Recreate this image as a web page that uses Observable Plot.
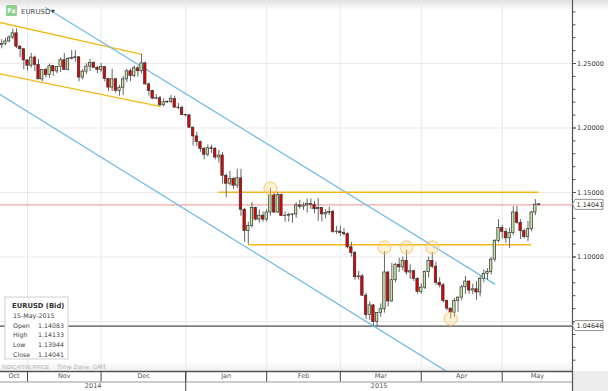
<!DOCTYPE html>
<html>
<head>
<meta charset="utf-8">
<script src="https://cdn.jsdelivr.net/npm/d3@7"></script>
<script src="https://cdn.jsdelivr.net/npm/@observablehq/plot@0.6"></script>
<style>
  html, body { margin: 0; padding: 0; background: #fff; }
  #chart { width: 608px; height: 391px; overflow: hidden; color: #333; }
  #chart svg { display: block; }
</style>
</head>
<body>
<div id="chart"></div>
<script>
// ---------- DATA ----------
const symbol = "EURUSD";
const startDate = "2014-10-23";
const endDate = "2015-05-15";

// daily candles [open, high, low, close], one row per weekday
const oct2014 = [
  [1.2642,1.2685,1.2614,1.2651],[1.2651,1.2696,1.2636,1.2671],[1.2671,1.2714,1.2662,1.2701],
  [1.2701,1.2766,1.2685,1.2734],[1.2734,1.2768,1.2615,1.2630],[1.2630,1.2640,1.2545,1.2611],
  [1.2611,1.2612,1.2451,1.2524]
];
const nov2014 = [
  [1.2524,1.2530,1.2440,1.2483],[1.2483,1.2578,1.2464,1.2546],[1.2546,1.2557,1.2437,1.2489],
  [1.2489,1.2531,1.2375,1.2377],[1.2377,1.2450,1.2358,1.2449],[1.2449,1.2464,1.2387,1.2410],
  [1.2410,1.2495,1.2387,1.2479],[1.2479,1.2485,1.2400,1.2439],[1.2439,1.2475,1.2420,1.2472],
  [1.2472,1.2544,1.2430,1.2525],[1.2525,1.2577,1.2445,1.2450],[1.2450,1.2545,1.2443,1.2535],
  [1.2535,1.2600,1.2528,1.2543],[1.2543,1.2600,1.2510,1.2548],[1.2548,1.2552,1.2358,1.2391],
  [1.2391,1.2452,1.2372,1.2437],[1.2437,1.2499,1.2416,1.2476],[1.2476,1.2532,1.2438,1.2505],
  [1.2505,1.2512,1.2461,1.2467],[1.2467,1.2478,1.2422,1.2451]
];
const dec2014 = [
  [1.2451,1.2500,1.2430,1.2472],[1.2472,1.2475,1.2357,1.2381],[1.2381,1.2385,1.2282,1.2313],
  [1.2313,1.2456,1.2283,1.2378],[1.2378,1.2385,1.2269,1.2288],[1.2288,1.2330,1.2247,1.2312],
  [1.2312,1.2399,1.2250,1.2377],[1.2377,1.2455,1.2352,1.2440],[1.2440,1.2458,1.2359,1.2403],
  [1.2403,1.2482,1.2390,1.2463],[1.2463,1.2478,1.2395,1.2440],[1.2440,1.2570,1.2418,1.2501],
  [1.2501,1.2511,1.2334,1.2338],[1.2338,1.2350,1.2247,1.2287],[1.2287,1.2293,1.2220,1.2228],
  [1.2228,1.2259,1.2217,1.2231],[1.2231,1.2244,1.2164,1.2176],[1.2176,1.2226,1.2165,1.2199],
  [1.2199,1.2210,1.2190,1.2202],[1.2202,1.2252,1.2188,1.2224],[1.2224,1.2247,1.2152,1.2158],
  [1.2158,1.2191,1.2141,1.2155],[1.2155,1.2170,1.2096,1.2100]
];
const jan2015 = [
  [1.2100,1.2105,1.2085,1.2098],[1.2098,1.2103,1.2001,1.2002],[1.2002,1.2009,1.1860,1.1935],
  [1.1935,1.1968,1.1855,1.1891],[1.1891,1.1897,1.1812,1.1838],[1.1838,1.1850,1.1754,1.1793],
  [1.1793,1.1869,1.1777,1.1843],[1.1843,1.1867,1.1802,1.1838],[1.1838,1.1849,1.1752,1.1771],
  [1.1771,1.1826,1.1728,1.1787],[1.1787,1.1811,1.1567,1.1630],[1.1630,1.1643,1.1460,1.1568],
  [1.1568,1.1663,1.1550,1.1605],[1.1605,1.1614,1.1523,1.1553],[1.1553,1.1680,1.1530,1.1610],
  [1.1610,1.1680,1.1315,1.1366],[1.1366,1.1377,1.1115,1.1202],[1.1202,1.1270,1.1098,1.1240],
  [1.1240,1.1423,1.1224,1.1380],[1.1380,1.1387,1.1280,1.1290],[1.1290,1.1364,1.1262,1.1320],
  [1.1320,1.1350,1.1270,1.1290]
];
const feb2015 = [
  [1.1290,1.1367,1.1270,1.1345],[1.1345,1.1534,1.1315,1.1480],[1.1480,1.1499,1.1337,1.1345],
  [1.1345,1.1498,1.1338,1.1480],[1.1480,1.1488,1.1316,1.1317],[1.1317,1.1349,1.1270,1.1320],
  [1.1320,1.1340,1.1270,1.1325],[1.1325,1.1336,1.1262,1.1330],[1.1330,1.1422,1.1300,1.1400],
  [1.1400,1.1440,1.1370,1.1390],[1.1390,1.1420,1.1360,1.1400],[1.1400,1.1450,1.1340,1.1410],
  [1.1410,1.1450,1.1369,1.1405],[1.1405,1.1432,1.1335,1.1370],[1.1370,1.1451,1.1276,1.1380],
  [1.1380,1.1384,1.1272,1.1330],[1.1330,1.1367,1.1296,1.1340],[1.1340,1.1387,1.1323,1.1350],
  [1.1350,1.1364,1.1184,1.1195],[1.1195,1.1237,1.1174,1.1197]
];
const mar2015 = [
  [1.1197,1.1239,1.1160,1.1185],[1.1185,1.1222,1.1162,1.1177],[1.1177,1.1188,1.1063,1.1075],
  [1.1075,1.1114,1.1000,1.1030],[1.1030,1.1043,1.0820,1.0843],[1.0843,1.0888,1.0820,1.0850],
  [1.0850,1.0864,1.0695,1.0700],[1.0700,1.0720,1.0515,1.0550],[1.0550,1.0653,1.0508,1.0625],
  [1.0625,1.0629,1.0462,1.0495],[1.0495,1.0570,1.0458,1.0565],[1.0565,1.0637,1.0531,1.0595],
  [1.0595,1.1043,1.0565,1.0880],[1.0880,1.0886,1.0613,1.0655],[1.0655,1.0950,1.0650,1.0820],
  [1.0820,1.0950,1.0800,1.0940],[1.0940,1.0990,1.0880,1.0920],[1.0920,1.1000,1.0890,1.0970],
  [1.0970,1.1052,1.0860,1.0880],[1.0880,1.0940,1.0826,1.0890],[1.0890,1.0895,1.0810,1.0830],
  [1.0830,1.0840,1.0712,1.0730]
];
const apr2015 = [
  [1.0730,1.0790,1.0711,1.0762],[1.0762,1.0890,1.0747,1.0885],[1.0885,1.1000,1.0837,1.0970],
  [1.0970,1.1035,1.0910,1.0925],[1.0925,1.0960,1.0780,1.0800],[1.0800,1.0838,1.0760,1.0780],
  [1.0780,1.0795,1.0643,1.0660],[1.0660,1.0665,1.0582,1.0600],[1.0600,1.0604,1.0520,1.0568],
  [1.0568,1.0679,1.0532,1.0658],[1.0658,1.0690,1.0569,1.0685],[1.0685,1.0780,1.0660,1.0765],
  [1.0765,1.0850,1.0710,1.0810],[1.0810,1.0815,1.0711,1.0740],[1.0740,1.0789,1.0708,1.0750],
  [1.0750,1.0810,1.0663,1.0725],[1.0725,1.0849,1.0690,1.0830],[1.0830,1.0900,1.0800,1.0870],
  [1.0870,1.0910,1.0820,1.0885],[1.0885,1.0995,1.0860,1.0980],[1.0980,1.1135,1.0960,1.1125],
  [1.1125,1.1290,1.1110,1.1225]
];
const may2015 = [
  [1.1225,1.1245,1.1140,1.1195],[1.1195,1.1220,1.1106,1.1145],[1.1145,1.1225,1.1065,1.1185],
  [1.1185,1.1390,1.1165,1.1345],[1.1345,1.1392,1.1253,1.1265],[1.1265,1.1290,1.1135,1.1200],
  [1.1200,1.1215,1.1140,1.1155],[1.1155,1.1276,1.1120,1.1215],[1.1215,1.1355,1.1195,1.1345],
  [1.1345,1.1445,1.1320,1.1405],[1.14083,1.14133,1.13944,1.14041]
];

const monthNames = ["Oct","Nov","Dec","Jan","Feb","Mar","Apr","May"];
const monthStartDates = ["2014-11-01","2014-12-01","2015-01-01","2015-02-01","2015-03-01","2015-04-01","2015-05-01"];
const yearNames = ["2014","2015"];
const yearStartDate = "2015-01-01";

const priceLabels = [1.10, 1.15, 1.20, 1.25];
const gridPrices = [1.05, 1.10, 1.15, 1.20, 1.25];
const minorTicks = [1.02,1.03,1.04,1.05,1.06,1.07,1.08,1.09,1.10,1.11,1.12,1.13,1.14,1.15,1.16,1.17,1.18,1.19,1.20,1.21,1.22,1.23,1.24,1.25,1.26,1.27,1.28,1.29];
const lastPrice = 1.14041;
const markedLow = 1.04646;

// drawn trend channels (date, price anchors)
const channelLines = [
  {id: "up", date: "2014-10-20", p: 1.2834}, {id: "up", date: "2014-12-16", p: 1.2570},
  {id: "lo", date: "2014-10-20", p: 1.2434}, {id: "lo", date: "2014-12-23", p: 1.2168}
];
const blueLines = [
  {id: "up", date: "2014-11-10", p: 1.2932}, {id: "up", date: "2015-04-29", p: 1.0790},
  {id: "lo", date: "2014-10-20", p: 1.2305}, {id: "lo", date: "2015-04-30", p: 0.9864}
];
const levels = [
  {p: 1.1502, from: "2015-01-14", to: "2015-05-15"},
  {p: 1.1095, from: "2015-01-26", to: "2015-05-13"}
];
const touches = [
  {date: "2015-02-03", p: 1.1531}, {date: "2015-03-18", p: 1.1075},
  {date: "2015-03-26", p: 1.1075}, {date: "2015-04-06", p: 1.1075},
  {date: "2015-04-13", p: 1.0522}
];

// ---------- BUILD ----------
const isWk = t => t.getUTCDay() % 6 !== 0;
const days = d3.utcDay.range(new Date(startDate), d3.utcDay.offset(new Date(endDate), 1)).filter(isWk);
const s0 = days[0];
function tIndex(s) {
  const d = new Date(s);
  return d >= s0 ? d3.utcDay.range(s0, d).filter(isWk).length
                 : -d3.utcDay.range(d, s0).filter(isWk).length;
}
const rows = [...oct2014, ...nov2014, ...dec2014, ...jan2015, ...feb2015, ...mar2015, ...apr2015, ...may2015];
const candles = rows.map((r, i) => ({i, date: days[i], o: r[0], h: r[1], l: r[2], c: r[3]}));
const last = candles[candles.length - 1];

const xDomain = [-0.34, last.i + 9.1];
const yDomain = [1.01124, 1.29884];

const monthStarts = monthStartDates.map(tIndex);
const bounds = [xDomain[0], ...monthStarts, xDomain[1]];
const monthLabels = monthNames.map((name, k) => ({name, mid: (bounds[k] + bounds[k + 1]) / 2}));
const yIdx = tIndex(yearStartDate);
const yearLabels = [
  {name: yearNames[0], mid: (xDomain[0] + yIdx) / 2},
  {name: yearNames[1], mid: (yIdx + xDomain[1]) / 2}
];
const withIdx = arr => arr.map(d => ({...d, i: tIndex(d.date)}));

const green = "#c6e4a2", red = "#e40000";

const plot = Plot.plot({
  width: 608, height: 391,
  marginLeft: 0, marginRight: 36, marginTop: 0, marginBottom: 20,
  x: {type: "linear", domain: xDomain, axis: null},
  y: {type: "linear", domain: yDomain, axis: null},
  style: {fontFamily: "'DejaVu Sans', Verdana, sans-serif", fontSize: "6.5px", background: "#fff", overflow: "visible"},
  marks: [
    Plot.ruleY(gridPrices, {stroke: "#e9e9e9"}),
    Plot.ruleX(monthStarts, {stroke: "#e9e9e9"}),
    Plot.ruleY([lastPrice], {stroke: "#f6a4a4", strokeWidth: 1.3}),
    Plot.ruleY([markedLow], {stroke: "#808080", strokeWidth: 1.8}),
    Plot.line(withIdx(channelLines), {x: "i", y: "p", z: "id", stroke: "#f2b818", strokeWidth: 1.3, clip: true}),
    Plot.line(withIdx(blueLines), {x: "i", y: "p", z: "id", stroke: "#72bce8", strokeWidth: 1.3, clip: true}),
    Plot.ruleY(levels, {y: "p", x1: d => tIndex(d.from), x2: d => tIndex(d.to), stroke: "#f2b818", strokeWidth: 1.5}),
    Plot.ruleX(candles, {x: "i", y1: "l", y2: "h", stroke: "#666", strokeWidth: 1}),
    Plot.rect(candles, {x1: d => d.i - 0.33, x2: d => d.i + 0.33, y1: "o", y2: "c",
      fill: d => d.c >= d.o ? green : red, stroke: "#333", strokeWidth: 0.7}),
    Plot.dot(withIdx(touches), {x: "i", y: "p", r: 6.5, fill: "#fbd98a", fillOpacity: 0.35, stroke: "#f4c66c", strokeWidth: 1}),
    // time axis band
    Plot.ruleY([yDomain[0]], {stroke: "#555", strokeWidth: 1.3}),
    Plot.ruleY([yDomain[0]], {dy: 10.5, stroke: "#999"}),
    Plot.ruleX(monthStarts, {insetTop: 371, insetBottom: -10.5, stroke: "#444"}),
    Plot.ruleX([yIdx], {insetTop: 371, insetBottom: -20, stroke: "#444"}),
    Plot.text(monthLabels, {x: "mid", text: "name", frameAnchor: "bottom", dy: 6, fill: "#555", fontSize: 6.5}),
    Plot.text(yearLabels, {x: "mid", text: "name", frameAnchor: "bottom", dy: 16, fill: "#555", fontSize: 6.5}),
    // price axis
    Plot.ruleX([xDomain[1]], {stroke: "#555", strokeWidth: 1.2, insetBottom: -20}),
    Plot.axisY(minorTicks, {anchor: "right", tickSize: 2.5, tickFormat: () => "", stroke: "#555"}),
    Plot.axisY(priceLabels, {anchor: "right", tickSize: 3, tickPadding: 1.5, tickFormat: d => d.toFixed(5), fontSize: 6.5, stroke: "#555"})
  ]
});
document.getElementById("chart").appendChild(plot);

// ---------- CHROME (panel header, price flags, info box) ----------
const svg = d3.select(plot);
const X = v => plot.scale("x").apply(v), Y = v => plot.scale("y").apply(v);
const xr = X(xDomain[1]), yb = Y(yDomain[0]);
const bg = svg.insert("g", ":first-child");
const defs = svg.insert("defs", ":first-child");
const lg = (id, a, b) => {
  const g = defs.append("linearGradient").attr("id", id).attr("x1", 0).attr("y1", 0).attr("x2", 0).attr("y2", 1);
  g.append("stop").attr("offset", 0).attr("stop-color", a);
  g.append("stop").attr("offset", 1).attr("stop-color", b);
};
lg("hdr", "#e0e0e0", "#ffffff");
lg("ftr", "#ffffff", "#f0f0f0");
bg.append("rect").attr("x", 0).attr("y", 0).attr("width", 608).attr("height", 10).attr("fill", "url(#hdr)");
bg.append("rect").attr("x", 0).attr("y", yb - 10).attr("width", xr).attr("height", 10).attr("fill", "url(#ftr)");
bg.append("rect").attr("x", xr).attr("y", yb).attr("width", 608 - xr).attr("height", 20).attr("fill", "#ececec");

const font = "'DejaVu Sans', Verdana, sans-serif";
const fg = svg.append("g").attr("font-family", font).attr("text-anchor", "start");
// footnote
fg.append("text").attr("x", 2).attr("y", yb - 2.5).attr("font-size", 5.3).attr("font-family", "'Liberation Sans', Arial, sans-serif")
  .attr("fill", "#b0b0b0").text("INDICATIVE PRICE");
fg.append("text").attr("x", 57).attr("y", yb - 2.5).attr("font-size", 6).attr("fill", "#b0b0b0").text("Time Zone: GMT");
// header
fg.append("rect").attr("x", 6).attr("y", 5).attr("width", 11).attr("height", 11).attr("rx", 1).attr("fill", "#8fd08f");
fg.append("text").attr("x", 11.5).attr("y", 13.2).attr("text-anchor", "middle").attr("font-size", 6.5)
  .attr("font-weight", "bold").attr("fill", "#fff").text("Fx");
fg.append("text").attr("x", 21).attr("y", 13.5).attr("font-size", 7).attr("fill", "#444").text(symbol);
fg.append("text").attr("x", 51).attr("y", 13).attr("font-size", 5).attr("fill", "#444").text("▼");
// price flags
for (const p of [lastPrice, markedLow]) {
  const y = Y(p);
  fg.append("path").attr("d", `M${xr + 0.5},${y} L${xr + 3},${y - 5} H${xr + 31} V${y + 5} H${xr + 3} Z`)
    .attr("fill", "#fff").attr("stroke", "#777").attr("stroke-width", 0.8);
  fg.append("text").attr("x", xr + 4.5).attr("y", y + 2.3).attr("font-size", 6.5).attr("fill", "#333").text(p.toFixed(5));
}
// info box
const fmtDate = d3.utcFormat("%d-%b-%Y");
const info = fg.append("g").attr("transform", "translate(5,297)");
info.append("rect").attr("width", 63).attr("height", 62).attr("fill", "#fff").attr("stroke", "#d0d0d0");
info.append("text").attr("x", 7).attr("y", 10.5).attr("font-size", 6.8).attr("font-weight", "bold").attr("fill", "#333")
  .text(`${symbol} (Bid)`);
info.append("text").attr("x", 8).attr("y", 20.5).attr("font-size", 6.3).attr("fill", "#444").text(fmtDate(last.date));
[["Open", last.o], ["High", last.h], ["Low", last.l], ["Close", last.c]].forEach(([k, v], j) => {
  const yy = 30.5 + j * 9.7;
  info.append("text").attr("x", 8).attr("y", yy).attr("font-size", 6.3).attr("fill", "#444").text(k);
  info.append("text").attr("x", 33).attr("y", yy).attr("font-size", 6.3).attr("fill", "#444").text(v.toFixed(5));
});
</script>
</body>
</html>
